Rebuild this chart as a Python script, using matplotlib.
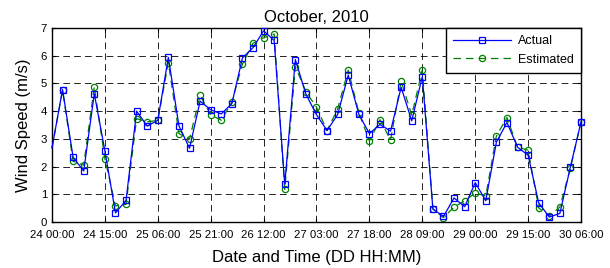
import matplotlib
matplotlib.use("Agg")
import matplotlib.pyplot as plt
import matplotlib.dates as mdates
import pandas as pd

plt.rcParams['font.family'] = ['Liberation Sans', 'DejaVu Sans']

# 3-hourly samples, 24 Oct 00:00 .. 30 Oct 06:00
times = pd.date_range('2010-10-24 00:00', '2010-10-30 06:00', freq='3h')

actual = [2.67, 4.78, 2.33, 1.84, 4.63, 2.57, 0.33, 0.78, 4.00, 3.46,
          3.67, 5.94, 3.47, 2.66, 4.36, 4.05, 3.90, 4.27, 5.92, 6.29,
          6.90, 6.55, 1.36, 5.86, 4.61, 3.87, 3.30, 3.88, 5.30, 3.89,
          3.19, 3.52, 3.28, 4.86, 3.65, 5.24, 0.47, 0.20, 0.87, 0.55,
          1.42, 0.77, 2.88, 3.59, 2.70, 2.41, 0.69, 0.18, 0.31, 1.99,
          3.61]
estimated = [2.67, 4.75, 2.19, 2.05, 4.88, 2.29, 0.58, 0.64, 3.73, 3.61,
             3.67, 5.75, 3.19, 2.99, 4.57, 3.87, 3.67, 4.32, 5.70, 6.45,
             6.65, 6.78, 1.18, 5.61, 4.70, 4.14, 3.30, 4.08, 5.48, 3.95,
             2.92, 3.69, 2.96, 5.08, 3.86, 5.48, 0.47, 0.16, 0.54, 0.76,
             1.05, 0.94, 3.10, 3.77, 2.70, 2.59, 0.51, 0.22, 0.54, 1.95,
             3.61]

tick_times = pd.date_range('2010-10-24 00:00', '2010-10-30 06:00', freq='15h')

fig = plt.figure(figsize=(6.1, 2.68), dpi=100)
ax = fig.add_axes([0.0852, 0.1716, 0.8673, 0.7239])

ax.plot(times, actual, color='#0000ff', lw=0.9, marker='s', ms=4.5,
        mfc='none', mec='#0000ff', mew=0.9, markevery=slice(1, None),
        label='Actual', zorder=3, clip_on=False)
ax.plot(times, estimated, color='#008000', lw=0.9, ls=(0, (6, 4)),
        marker='o', ms=4.5, mfc='none', mec='#008000', mew=0.9,
        markevery=slice(1, None), label='Estimated', zorder=2, clip_on=False)

ax.set_xlim(times[0], times[-1])
ax.set_ylim(0, 7)
ax.set_yticks(range(0, 8))
ax.set_xticks(tick_times)
ax.xaxis.set_major_formatter(mdates.DateFormatter('%d %H:%M'))

ax.grid(True, color='black', lw=0.6, ls=(0, (8, 5)))
ax.set_axisbelow(True)
ax.tick_params(direction='in', length=3, labelsize=8.2, top=True, right=True)
ax.tick_params(axis='x', pad=6)
for s in ax.spines.values():
    s.set_linewidth(1.0)

ax.set_title('October, 2010', fontsize=12, pad=4)
ax.set_xlabel('Date and Time (DD HH:MM)', fontsize=12, labelpad=7)
ax.set_ylabel('Wind Speed (m/s)', fontsize=12, labelpad=7)

leg = ax.legend(loc='upper right', borderaxespad=0, fancybox=False,
                fontsize=9, handlelength=4.6, handletextpad=0.6,
                labelspacing=0.55, borderpad=0.55, framealpha=1)
leg.get_frame().set_edgecolor('black')
leg.get_frame().set_linewidth(1.0)

fig.savefig('out.png', dpi=100)
